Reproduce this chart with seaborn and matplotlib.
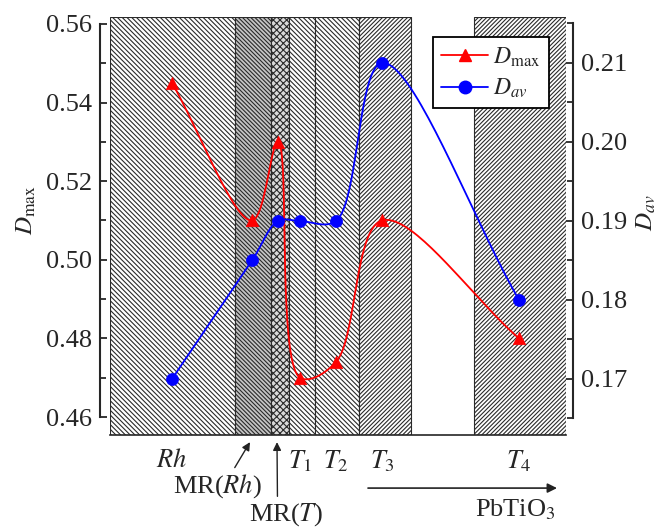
import numpy as np
import matplotlib
matplotlib.use("Agg")
import matplotlib.pyplot as plt
import seaborn as sns
from matplotlib.lines import Line2D

# ---- data ----
phases = ["Rh", "MR(Rh)", "MR(T)", "T1", "T2", "T3", "T4"]
x_pos = [62, 142, 168, 190, 226, 272, 409]
d_max = [0.545, 0.510, 0.530, 0.470, 0.474, 0.510, 0.480]
d_av = [0.170, 0.185, 0.190, 0.190, 0.190, 0.210, 0.180]

# phase regions (left, right, fill, hatch)
region_left = [0, 125, 161, 179, 205, 249, 364]
region_right = [125, 161, 179, 205, 249, 301, 456]
region_fill = ["white", "#c4c4c4", "#dadada", "white", "white", "white", "white"]
region_hatch = ["\\" * 7, "\\" * 8, "x" * 5, "\\" * 7, "\\" * 7, "/" * 8, "/" * 8]

tick_labels = ["$Rh$", "$T_1$", "$T_2$", "$T_3$", "$T_4$"]
tick_idx = [0, 3, 4, 5, 6]

sns.set_theme(style="ticks")
plt.rcParams["font.family"] = ["Liberation Serif", "DejaVu Serif"]
plt.rcParams["mathtext.fontset"] = "stix"
plt.rcParams["hatch.linewidth"] = 0.8
plt.rcParams["axes.linewidth"] = 1.5


def smooth(xs, ys, sy, n=40):
    # centripetal catmull-rom through the points (pixel-ish space)
    P = np.column_stack([np.asarray(xs, float), np.asarray(ys, float) * sy])
    P = np.vstack([2 * P[0] - P[1], P, 2 * P[-1] - P[-2]])
    out = []
    for i in range(1, len(P) - 2):
        p0, p1, p2, p3 = P[i - 1:i + 3]
        t0 = 0.0
        t1 = t0 + np.linalg.norm(p1 - p0) ** 0.5
        t2 = t1 + np.linalg.norm(p2 - p1) ** 0.5
        t3 = t2 + np.linalg.norm(p3 - p2) ** 0.5
        t = np.linspace(t1, t2, n)[:, None]
        a1 = (t1 - t) / (t1 - t0) * p0 + (t - t0) / (t1 - t0) * p1
        a2 = (t2 - t) / (t2 - t1) * p1 + (t - t1) / (t2 - t1) * p2
        a3 = (t3 - t) / (t3 - t2) * p2 + (t - t2) / (t3 - t2) * p3
        b1 = (t2 - t) / (t2 - t0) * a1 + (t - t0) / (t2 - t0) * a2
        b2 = (t3 - t) / (t3 - t1) * a2 + (t - t1) / (t3 - t1) * a3
        c = (t2 - t) / (t2 - t1) * b1 + (t - t1) / (t2 - t1) * b2
        out.append(c)
    out = np.vstack(out)
    return out[:, 0], out[:, 1] / sy


fig = plt.figure(figsize=(6.72, 5.28), dpi=100)
ax = fig.add_axes([110 / 672, 1 - 435 / 528, 456 / 672, 418 / 528])
ax.set_facecolor("white")

for l, r, fc, h in zip(region_left, region_right, region_fill, region_hatch):
    ax.axvspan(l, r, facecolor=fc, hatch=h, edgecolor="#2a2a2a", linewidth=0.8, zorder=0)

ax.set_xlim(0, 456)
ax.set_ylim(0.45542, 0.56178)

cx, cy = smooth(x_pos, d_max, 3930)
sns.lineplot(x=cx, y=cy, sort=False, estimator=None, ax=ax, color="red", lw=1.3, zorder=3)
sns.scatterplot(x=x_pos, y=d_max, marker="^", s=80, color="red", edgecolor="red",
                linewidth=0.5, ax=ax, zorder=4, legend=False)

ax2 = ax.twinx()
ax2.set_ylim(0.16291, 0.21582)
bx, by = smooth(x_pos, d_av, 7900)
sns.lineplot(x=bx, y=by, sort=False, estimator=None, ax=ax2, color="blue", lw=1.3, zorder=3)
sns.scatterplot(x=x_pos, y=d_av, marker="o", s=75, color="blue", edgecolor="blue",
                linewidth=0.5, ax=ax2, zorder=4, legend=False)

# spines
ax.spines["top"].set_visible(False)
ax.spines["right"].set_visible(False)
ax.spines["left"].set_position(("outward", 7.2))
ax.spines["left"].set_bounds(0.46, 0.56)
ax.spines["bottom"].set_linewidth(1.2)
for s in ["top", "left", "bottom"]:
    ax2.spines[s].set_visible(False)
ax2.spines["right"].set_position(("outward", 5))
ax2.spines["right"].set_bounds(0.165, 0.215)

ax.set_yticks(np.arange(0.46, 0.5601, 0.02))
ax.set_yticks(np.arange(0.47, 0.56, 0.02), minor=True)
ax.set_yticklabels([f"{v:.2f}" for v in np.arange(0.46, 0.5601, 0.02)])
ax2.set_yticks(np.arange(0.17, 0.2101, 0.01))
ax2.set_yticks(np.arange(0.165, 0.2151, 0.01), minor=True)
ax2.set_yticklabels([f"{v:.2f}" for v in np.arange(0.17, 0.2101, 0.01)])

ax.tick_params(axis="y", which="both", direction="in", width=1.3, labelsize=19, pad=6)
ax.tick_params(axis="y", which="major", length=5)
ax.tick_params(axis="y", which="minor", length=4.5)
ax2.tick_params(axis="y", which="both", direction="in", width=1.3, labelsize=19, pad=6)
ax2.tick_params(axis="y", which="major", length=5)
ax2.tick_params(axis="y", which="minor", length=4.5)

ax.set_xticks([x_pos[i] for i in tick_idx])
ax.set_xticklabels(tick_labels)
ax.tick_params(axis="x", length=0, labelsize=19, pad=10)

ax.set_ylabel(r"$D_{\rm max}$", fontsize=18)
ax.yaxis.set_label_coords(-0.158, 0.538)
ax2.set_ylabel(r"$D_{av}$", fontsize=18)
ax2.yaxis.set_label_coords(1.15, 0.531)

# annotations below the axis
tr = ax.get_xaxis_transform()
arrow_kw = dict(arrowstyle="-|>", color="#222222", lw=1.0, mutation_scale=12, shrinkA=1, shrinkB=0)
ax.annotate("MR($Rh$)", xy=(140, -0.017), xycoords=tr, xytext=(107, -0.122), textcoords=tr,
            ha="center", va="center", fontsize=19,
            arrowprops=dict(relpos=(0.67, 1.0), **arrow_kw), annotation_clip=False)
ax.annotate("MR($T$)", xy=(167, -0.017), xycoords=tr, xytext=(176, -0.19), textcoords=tr,
            ha="center", va="center", fontsize=19,
            arrowprops=dict(relpos=(0.385, 1.0), **arrow_kw), annotation_clip=False)
ax.annotate("", xy=(447, -0.127), xycoords=tr, xytext=(258, -0.127), textcoords=tr,
            arrowprops=dict(arrowstyle="-|>", color="#222222", lw=1.2, mutation_scale=14,
                            shrinkA=0, shrinkB=0), annotation_clip=False)
ax.text(405, -0.179, "PbTiO$_3$", transform=tr, ha="center", va="center", fontsize=19)

handles = [
    Line2D([], [], color="red", marker="^", markersize=9, lw=1.3),
    Line2D([], [], color="blue", marker="o", markersize=9, lw=1.3),
]
leg = ax2.legend(handles, [r"$D_{\rm max}$", r"$D_{av}$"], loc="upper left",
                 bbox_to_anchor=(0.708, 0.952), fontsize=17, frameon=True, fancybox=False,
                 framealpha=1, edgecolor="black", handlelength=2.0, borderpad=0.35,
                 labelspacing=0.35, handletextpad=0.2, borderaxespad=0)
leg.get_frame().set_linewidth(1.3)
leg.set_zorder(10)

fig.savefig("out.png", dpi=100)
